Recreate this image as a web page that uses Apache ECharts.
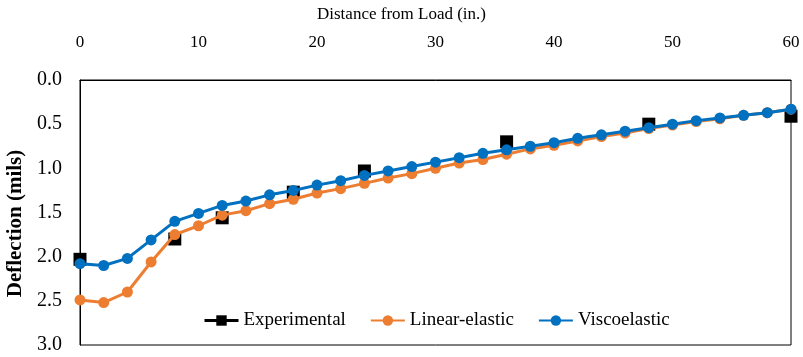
<!DOCTYPE html>
<html>
<head>
<meta charset="utf-8">
<script src="https://cdn.jsdelivr.net/npm/echarts@6/dist/echarts.min.js"></script>
<style>html,body{margin:0;padding:0;background:#fff;}#c{width:803px;height:357px;}</style>
</head>
<body>
<div id="c"></div>
<script>
const distance = [0,2,4,6,8,10,12,14,16,18,20,22,24,26,28,30,32,34,36,38,40,42,44,46,48,50,52,54,56,58,60];
const linearElastic = [2.49,2.52,2.40,2.06,1.75,1.65,1.53,1.48,1.40,1.35,1.28,1.23,1.17,1.11,1.06,1.00,0.94,0.90,0.84,0.78,0.74,0.69,0.64,0.60,0.55,0.51,0.47,0.44,0.40,0.37,0.33];
const viscoelastic = [2.08,2.10,2.02,1.81,1.60,1.51,1.42,1.37,1.30,1.25,1.19,1.14,1.08,1.03,0.98,0.93,0.88,0.83,0.79,0.75,0.71,0.66,0.62,0.58,0.54,0.50,0.46,0.43,0.40,0.37,0.33];
const expDistance = [0,8,12,18,24,36,48,60];
const experimental = [2.03,1.80,1.56,1.27,1.03,0.70,0.50,0.41];
const xTitle = 'Distance from Load (in.)';
const yTitle = 'Deflection (mils)';
const seriesNames = ['Experimental','Linear-elastic','Viscoelastic'];

const font = 'Liberation Serif';
const chart = echarts.init(document.getElementById('c'));
const zip = (xs, ys) => xs.map((x, i) => [x, ys[i]]);
chart.setOption({
  animation: false,
  title: {
    text: xTitle, left: 'center', top: 6, padding: 0,
    textStyle: {fontFamily: font, fontSize: 17, fontWeight: 'normal', color: '#000'}
  },
  grid: {left: 80, right: 12, top: 80, bottom: 12, containLabel: false, outerBoundsMode: 'none',
         show: true, borderColor: '#000', borderWidth: 1},
  xAxis: {
    type: 'value', position: 'top', min: 0, max: 60, interval: 10,
    axisLine: {show: true, lineStyle: {color: '#000'}},
    axisTick: {show: false},
    splitLine: {show: false},
    axisLabel: {fontFamily: font, fontSize: 17, color: '#000', margin: 29}
  },
  yAxis: {
    type: 'value', inverse: true, min: 0, max: 3, interval: 0.5,
    name: yTitle, nameLocation: 'middle', nameGap: 52,
    nameTextStyle: {fontFamily: font, fontSize: 21, fontWeight: 'bold', color: '#000', padding: [0, 22, 0, 0]},
    axisLine: {show: true, lineStyle: {color: '#000'}},
    axisTick: {show: false},
    splitLine: {show: false},
    axisLabel: {fontFamily: font, fontSize: 20, color: '#000', margin: 18, formatter: v => v.toFixed(1)}
  },
  legend: {
    bottom: 27, left: 203, padding: 0, itemGap: 24, itemWidth: 34, itemHeight: 13,
    textStyle: {fontFamily: font, fontSize: 19, color: '#000'},
    data: [
      {name: seriesNames[0], lineStyle: {width: 3, color: '#000', opacity: 1}},
      {name: seriesNames[1]},
      {name: seriesNames[2]}
    ]
  },
  series: [
    {
      name: seriesNames[1], type: 'line', data: zip(distance, linearElastic),
      symbol: 'circle', symbolSize: 11, z: 2,
      lineStyle: {color: '#ED7D31', width: 3},
      itemStyle: {color: '#ED7D31'}
    },
    {
      name: seriesNames[2], type: 'line', data: zip(distance, viscoelastic),
      symbol: 'circle', symbolSize: 11, z: 3,
      lineStyle: {color: '#0070C0', width: 3},
      itemStyle: {color: '#0070C0'}
    },
    {
      name: seriesNames[0], type: 'line', data: zip(expDistance, experimental),
      symbol: 'rect', symbolSize: 13, z: 1,
      lineStyle: {color: '#000', width: 0, opacity: 0},
      itemStyle: {color: '#000'}
    }
  ]
});
</script>
</body>
</html>
